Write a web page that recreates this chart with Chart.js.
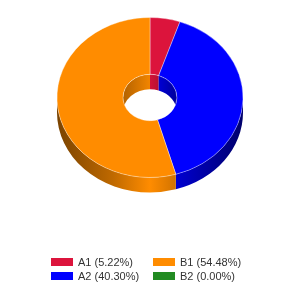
<!DOCTYPE html>
<html>
<head>
<meta charset="utf-8">
<script src="https://cdn.jsdelivr.net/npm/chart.js@4/dist/chart.umd.min.js"></script>
<style>
    body { margin: 0; background: #fff; }
    #contenedor { position: relative; width: 300px; height: 300px; }
    #grafica { position: absolute; left: 0; top: 0; }
    #leyenda {
        position: absolute; left: 51px; top: 255px;
        display: grid; grid-template-columns: 102px 102px; grid-auto-rows: 14px;
        font-family: "Liberation Sans", Arial, sans-serif; font-size: 11px; color: #333;
    }
    .item { display: flex; align-items: center; white-space: nowrap; }
    .caja { width: 22px; height: 8px; margin-right: 5px; display: inline-block; }
</style>
</head>
<body>
<div id="contenedor">
    <canvas id="grafica" width="300" height="300"></canvas>
    <div id="leyenda"></div>
</div>
<script>
const categorias = ['A1', 'A2', 'B1', 'B2'];
const valores = [5.22, 40.30, 54.48, 0.00];
const colores = ['#dc143c', '#0000ff', '#ff8c00', '#228b22'];
// orden de la leyenda (dos columnas: A1 B1 / A2 B2)
const ordenLeyenda = ['A1', 'B1', 'A2', 'B2'];

const ESCALA_Y = 0.86;   // aplastamiento de la elipse
const PROFUNDIDAD = 15;  // alto del canto en px

function sombra(hex, f) {
    const n = parseInt(hex.slice(1), 16);
    const r = Math.round(((n >> 16) & 255) * f);
    const g = Math.round(((n >> 8) & 255) * f);
    const b = Math.round((n & 255) * f);
    return `rgb(${r},${g},${b})`;
}

// intersecta [a1,a2] con [b1,b2]
function tramo(a1, a2, b1, b2) {
    const ini = Math.max(a1, b1), fin = Math.min(a2, b2);
    return fin > ini ? [[ini, fin]] : [];
}

function gradiente(ctx, x0, x1, color, paradas) {
    const g = ctx.createLinearGradient(x0, 0, x1, 0);
    paradas.forEach(([t, f]) => g.addColorStop(t, sombra(color, f)));
    return g;
}

const efecto3d = {
    id: 'efecto3d',
    beforeDatasetsDraw(chart) {
        const ctx = chart.ctx;
        const arcos = chart.getDatasetMeta(0).data;
        const cx = arcos[0].x, cy = arcos[0].y;
        const R = arcos[0].outerRadius, r = arcos[0].innerRadius;

        // canto exterior (mitad delantera)
        arcos.forEach((arco, i) => {
            tramo(arco.startAngle, arco.endAngle, 0, Math.PI).forEach(([a1, a2]) => {
                ctx.beginPath();
                ctx.ellipse(cx, cy, R, R * ESCALA_Y, 0, a1, a2, false);
                ctx.ellipse(cx, cy + PROFUNDIDAD, R, R * ESCALA_Y, 0, a2, a1, true);
                ctx.closePath();
                ctx.fillStyle = gradiente(ctx, cx - R, cx + R, colores[i],
                    [[0, 0.48], [0.3, 0.75], [0.5, 1], [0.64, 0.82], [1, 0.42]]);
                ctx.fill();
            });
        });

        // canto interior (mitad trasera, visto por el agujero)
        ctx.save();
        ctx.beginPath();
        ctx.ellipse(cx, cy, r, r * ESCALA_Y, 0, 0, 2 * Math.PI);
        ctx.clip();
        arcos.forEach((arco, i) => {
            const partes = tramo(arco.startAngle, arco.endAngle, -Math.PI / 2, 0)
                .concat(tramo(arco.startAngle, arco.endAngle, Math.PI, 1.5 * Math.PI));
            partes.forEach(([a1, a2]) => {
                ctx.beginPath();
                ctx.ellipse(cx, cy, r, r * ESCALA_Y, 0, a1, a2, false);
                ctx.ellipse(cx, cy + PROFUNDIDAD, r, r * ESCALA_Y, 0, a2, a1, true);
                ctx.closePath();
                ctx.fillStyle = gradiente(ctx, cx - r, cx + r, colores[i],
                    [[0, 0.7], [0.5, 0.95], [1, 0.6]]);
                ctx.fill();
            });
        });
        ctx.restore();

        // cara superior aplastada
        ctx.save();
        ctx.translate(cx, cy);
        ctx.scale(1, ESCALA_Y);
        ctx.translate(-cx, -cy);
    },
    afterDatasetsDraw(chart) {
        chart.ctx.restore();
    }
};

new Chart(document.getElementById('grafica').getContext('2d'), {
    type: 'doughnut',
    data: {
        labels: categorias,
        datasets: [{
            data: valores,
            backgroundColor: colores,
            borderColor: 'rgba(255,255,255,0.4)',
            borderWidth: [1, 1, 1, 0]
        }]
    },
    options: {
        responsive: false,
        animation: false,
        cutout: '29%',
        layout: { padding: { top: 4, bottom: 109 } },
        plugins: {
            legend: { display: false },
            tooltip: { enabled: false }
        }
    },
    plugins: [efecto3d]
});

// leyenda en html
const leyenda = document.getElementById('leyenda');
ordenLeyenda.forEach(cat => {
    const i = categorias.indexOf(cat);
    const item = document.createElement('div');
    item.className = 'item';
    item.innerHTML = `<span class="caja" style="background:${colores[i]}"></span><span>${cat} (${valores[i].toFixed(2)}%)</span>`;
    leyenda.appendChild(item);
});
</script>
</body>
</html>
